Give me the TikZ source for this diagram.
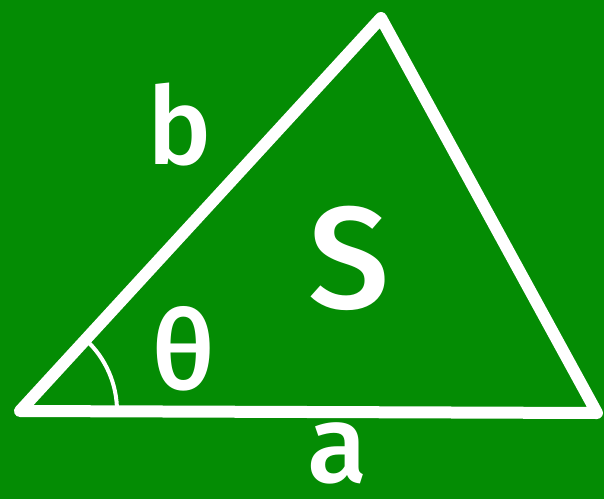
\documentclass[tikz,border=0pt]{standalone}
\usepackage{fontspec}
\setmainfont{Fira Sans}
\newfontfamily\labelfont{Fira Sans Medium}
\usepackage{tikz}
\usetikzlibrary{calc}
\definecolor{boardgreen}{RGB}{4,140,4}

\begin{document}
\begin{tikzpicture}[
        x=1pt, y=1pt,
        side/.style={draw=white, line width=12pt, line join=round},
        anglearc/.style={draw=white, line width=4pt},
        lbl/.style={text=white, inner sep=0pt, font=\labelfont\fontsize{#1}{#1}\selectfont}
      ]
        \fill[boardgreen] (0,0) rectangle (604,499);
        \useasboundingbox (0,0) rectangle (604,499);
        \coordinate (A) at (20,88);
        \coordinate (B) at (381,481);
        \coordinate (C) at (597,86);
        \draw[side] (A) -- (B) -- (C) -- cycle;
        \draw[anglearc] ($(A)+(97,0)$) arc[start angle=0, end angle=47.4, radius=97];
        \node[lbl=108] (b) at (180,374) {b};
        \node[lbl=145] (S) at (349,241) {S};
        \node[lbl=110] (theta) at (184,150) {θ};
        \node[lbl=110] (a) at (338,46) {a};
      \end{tikzpicture}
\end{document}
